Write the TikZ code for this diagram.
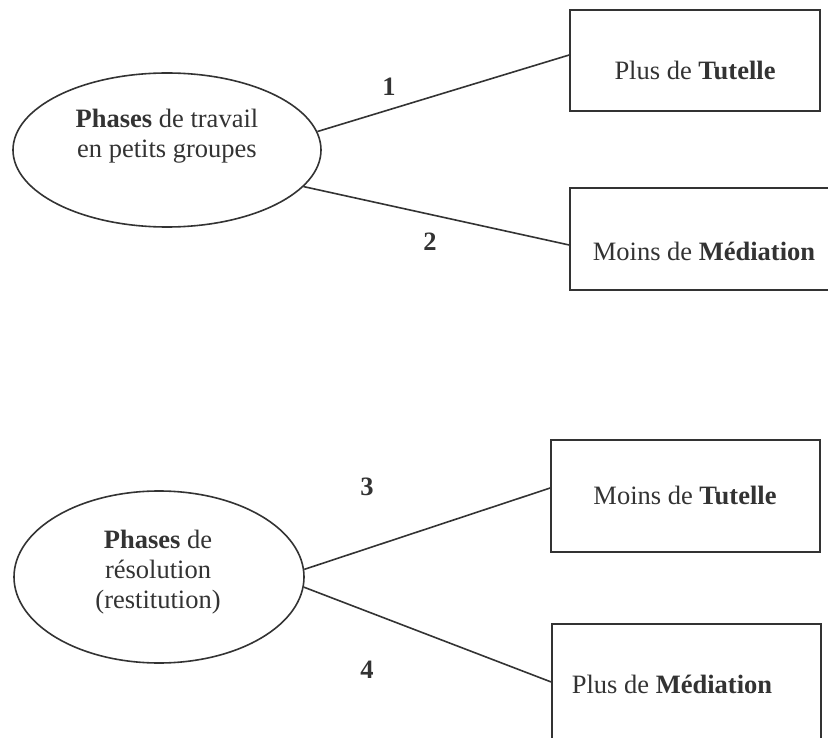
\documentclass[tikz,border=0pt]{standalone}
\usepackage{fontspec}
\setmainfont{Liberation Serif}
\usetikzlibrary{shapes.geometric}
\definecolor{ink}{HTML}{333333}
\tikzset{
  ovalnode/.style={draw=ink, line width=1.6pt, ellipse, inner sep=0pt},
  boxnode/.style={draw=ink, line width=1.6pt, rectangle, inner sep=0pt},
  txt/.style={text=ink, inner sep=0pt, align=center, font=\fontsize{26.5}{30}\selectfont},
  numlbl/.style={text=ink, inner sep=0pt, font=\fontsize{26.5}{30}\selectfont\bfseries},
  link/.style={draw=ink, line width=1.6pt}
}
\begin{document}
\begin{tikzpicture}[x=1pt,y=-1pt]
\useasboundingbox (0,0) rectangle (828,738);
\clip (0,0) rectangle (828,738);
% ellipses
\node[ovalnode, minimum width=308pt, minimum height=154pt] (e1) at (167,150) {};
\node[txt] (t1) at (167,136) {\textbf{Phases} de travail\\en petits groupes};
\node[ovalnode, minimum width=290pt, minimum height=172pt] (e2) at (159,577) {};
\node[txt] (t2) at (158,572) {\textbf{Phases} de\\résolution\\(restitution)};
% boxes
\node[boxnode, minimum width=250pt, minimum height=101pt] (b1) at (695,60.5) {};
\node[txt] (tb1) at (695,70) {Plus de \textbf{Tutelle}};
\node[boxnode, minimum width=280pt, minimum height=102pt] (b2) at (710,239) {};
\node[txt] (tb2) at (704,251) {Moins de \textbf{Médiation}};
\node[boxnode, minimum width=269pt, minimum height=112pt] (b3) at (685.5,496) {};
\node[txt] (tb3) at (685,495) {Moins de \textbf{Tutelle}};
\node[boxnode, minimum width=269pt, minimum height=136pt] (b4) at (686.5,692) {};
\node[txt] (tb4) at (672,684) {Plus de \textbf{Médiation}};
% attach points
\coordinate (p1) at ([yshift=5.5pt]b1.west);
\coordinate (p2) at ([yshift=-6pt]b2.west);
\coordinate (p3) at ([yshift=8pt]b3.west);
\coordinate (p4) at ([yshift=10pt]b4.west);
% connectors
\draw[link] (e1.7) -- (p1);
\draw[link] (e1.-15.7) -- (p2);
\draw[link] (e2.3.6) -- (p3);
\draw[link] (e2.-4) -- (p4);
% labels
\node[numlbl] (n1) at (389,87) {1};
\node[numlbl] (n2) at (430,242) {2};
\node[numlbl] (n3) at (367,487) {3};
\node[numlbl] (n4) at (367,670) {4};
\end{tikzpicture}
\end{document}
